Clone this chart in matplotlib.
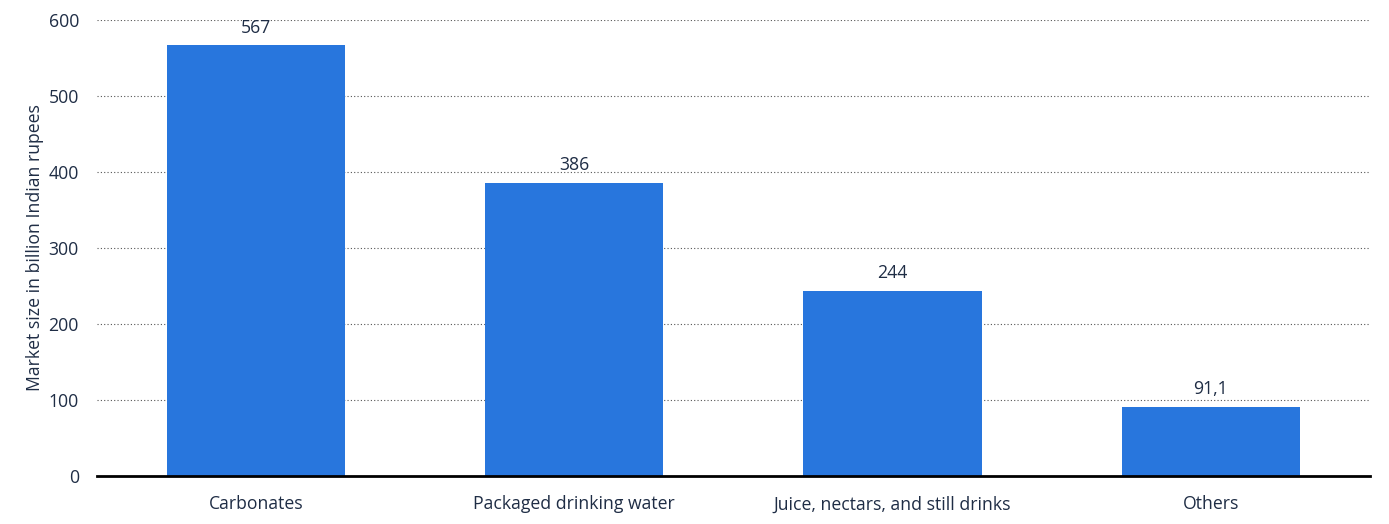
import matplotlib
matplotlib.use("Agg")
import matplotlib.pyplot as plt

categories = ["Carbonates", "Packaged drinking water", "Juice, nectars, and still drinks", "Others"]
values = [567, 386, 244, 91.1]
value_labels = ["567", "386", "244", "91,1"]
yticks = [0, 100, 200, 300, 400, 500, 600]

plt.rcParams['font.family'] = ['Open Sans', 'DejaVu Sans']
text_color = "#1f2d45"
fs = 12.7

fig = plt.figure(figsize=(13.89, 5.24), dpi=100)
ax = fig.add_axes([0.0698, 0.0916, 0.9165, 0.8702])

x = list(range(len(categories)))
bars = ax.bar(x, values, width=0.56, color="#2876dd", zorder=3)
for xi, v, lab in zip(x, values, value_labels):
    ax.annotate(lab, (xi, v), xytext=(0, 6), textcoords="offset points",
                ha="center", va="bottom", fontsize=fs, color=text_color)

ax.set_xlim(-0.5, len(categories) - 0.5)
ax.set_ylim(0, 600)
ax.set_yticks(yticks)
ax.set_yticklabels([str(t) for t in yticks], fontsize=fs, color=text_color)
ax.set_xticks(x)
ax.set_xticklabels(categories, fontsize=fs, color=text_color)
ax.tick_params(axis="both", length=0)
ax.tick_params(axis="y", pad=13)
ax.tick_params(axis="x", pad=14)
ax.yaxis.grid(True, linestyle=(0, (1, 2)), color="#555555", linewidth=0.8, zorder=0)
ax.set_axisbelow(True)
for s in ["top", "right", "left"]:
    ax.spines[s].set_visible(False)
ax.spines["bottom"].set_linewidth(2)
ax.spines["bottom"].set_color("black")
ax.spines["bottom"].set_zorder(4)
ax.set_ylabel("Market size in billion Indian rupees", fontsize=fs, color=text_color, labelpad=3)

fig.savefig("out.png", dpi=100)
